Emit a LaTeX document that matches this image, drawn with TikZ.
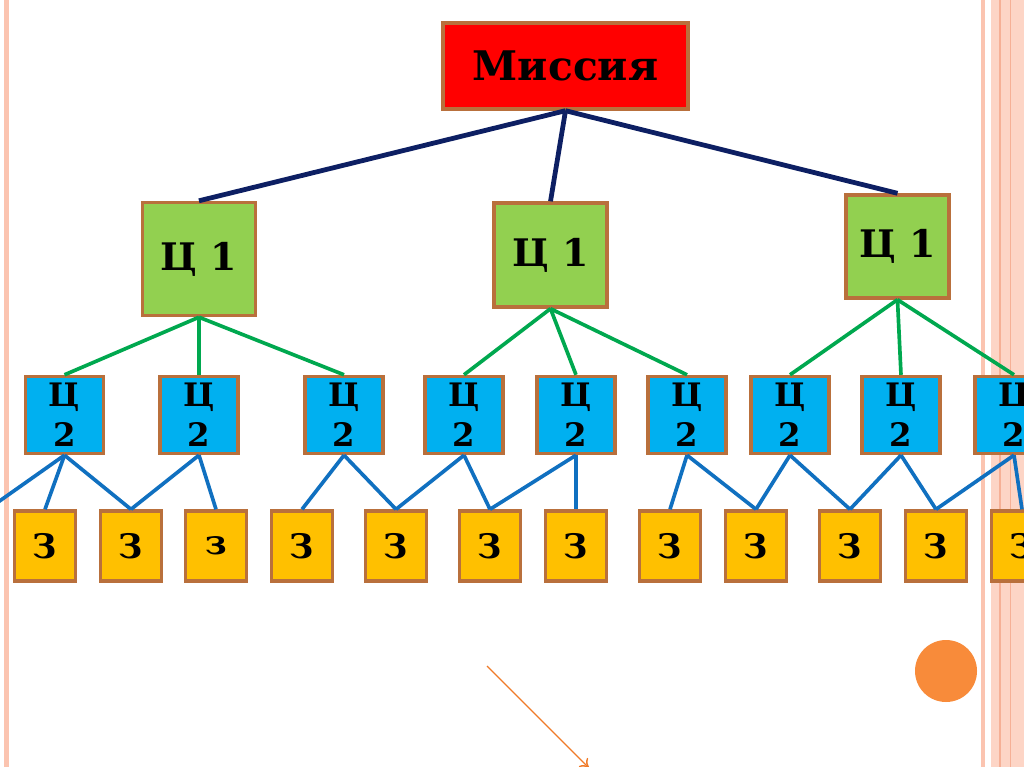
\documentclass[tikz,border=0pt]{standalone}
\usepackage{fontspec}
\setmainfont{DejaVu Serif}
\usetikzlibrary{arrows.meta}

\definecolor{MissionRed}{HTML}{FF0000}
\definecolor{GoalGreen}{HTML}{92D050}
\definecolor{SubGoalBlue}{HTML}{00B0F0}
\definecolor{TaskGold}{HTML}{FFC000}
\definecolor{EdgeBrown}{HTML}{B9703C}
\definecolor{NavyLine}{HTML}{0D1F63}
\definecolor{GreenLine}{HTML}{00A84F}
\definecolor{BlueLine}{HTML}{1070C0}
\definecolor{StripePink}{HTML}{FBC4B0}
\definecolor{StripeLight}{HTML}{FDD5C6}
\definecolor{StripeDark}{HTML}{F6B096}
\definecolor{DotOrange}{HTML}{F88B3A}
\definecolor{ArrowOrange}{HTML}{F07A28}

\begin{document}
\begin{tikzpicture}[x=0.025cm,y=-0.025cm,
  box/.style={draw=EdgeBrown,line width=2.4pt,inner sep=0pt,align=center,
    font=\bfseries\fontsize{27}{30}\selectfont},
  missionbox/.style={box,fill=MissionRed,minimum width=6.125cm,minimum height=2.15cm,
    font=\bfseries\fontsize{29}{32}\selectfont},
  goalbox/.style={box,fill=GoalGreen},
  subgoalbox/.style={box,fill=SubGoalBlue,minimum width=1.95cm,minimum height=1.925cm,
    font=\bfseries\fontsize{23}{28.3}\selectfont},
  taskbox/.style={box,fill=TaskGold,minimum width=1.525cm,minimum height=1.75cm,
    font=\bfseries\fontsize{24}{28}\selectfont},
  topline/.style={NavyLine,line width=3.4pt},
  goalline/.style={GreenLine,line width=2.6pt},
  taskline/.style={BlueLine,line width=2.6pt}]

  %–– Marco de la hoja ––
  \useasboundingbox (0,0) rectangle (1024,767);
  \clip (0,0) rectangle (1024,767);
  \fill[white] (0,0) rectangle (1024,767);

  %–– Franjas laterales ––
  \fill[StripePink] (4,0) rectangle (9,767);
  \fill[StripePink] (981,0) rectangle (985,767);
  \fill[StripeLight] (991,0) rectangle (1024,767);
  \draw[StripeDark,line width=0.8pt] (1000,0) -- (1000,767);
  \draw[StripeDark,line width=0.5pt] (1010,0) -- (1010,767);

  %–– Misión ––
  \node[missionbox] (mis) at (565.5,66) {Миссия};

  %–– Objetivos de primer nivel ––
  \node[goalbox,minimum width=2.825cm,minimum height=2.825cm] (c1a) at (199,259) {Ц 1};
  \node[goalbox,minimum width=2.825cm,minimum height=2.6cm] (c1b) at (550.5,255) {Ц 1};
  \node[goalbox,minimum width=2.575cm,minimum height=2.575cm] (c1c) at (897.5,246.5) {Ц 1};

  \foreach \g in {c1a,c1b,c1c}
    \draw[topline] (mis.south) -- (\g.north);

  %–– Objetivos de segundo nivel ––
  \foreach \i/\x in {1/64.5, 2/199, 3/344, 4/464, 5/576, 6/687, 7/790, 8/901, 9/1014}
    \node[subgoalbox] (c2\i) at (\x,415) {Ц\\2};

  \foreach \g/\s in {c1a/1, c1a/2, c1a/3, c1b/4, c1b/5, c1b/6, c1c/7, c1c/8, c1c/9}
    \draw[goalline] (\g.south) -- (c2\s.north);

  %–– Tareas ––
  \foreach \i/\x/\lbl in {1/45/З, 2/131/З, 3/216/з, 4/302/З, 5/396/З, 6/490/З,
                          7/576/З, 8/670/З, 9/756/З, 10/850/З, 11/936/З, 12/1022/З}
    \node[taskbox] (z\i) at (\x,546) {\lbl};

  \coordinate (zoff) at (-16,512);
  \draw[taskline] (c21.south) -- (zoff);
  \foreach \s/\t in {1/1, 1/2, 2/2, 2/3, 3/4, 3/5, 4/5, 4/6, 5/6, 5/7,
                     6/8, 6/9, 7/9, 7/10, 8/10, 8/11, 9/11, 9/12}
    \draw[taskline] (c2\s.south) -- (z\t.north);

  %–– Adornos ––
  \fill[DotOrange] (946,671) circle (31);
  \coordinate (arrA) at (487,666);
  \coordinate (arrB) at (589,768);
  \draw[ArrowOrange,line width=1pt,-{To[length=6pt,width=9pt]}] (arrA) -- (arrB);

\end{tikzpicture}
\end{document}
